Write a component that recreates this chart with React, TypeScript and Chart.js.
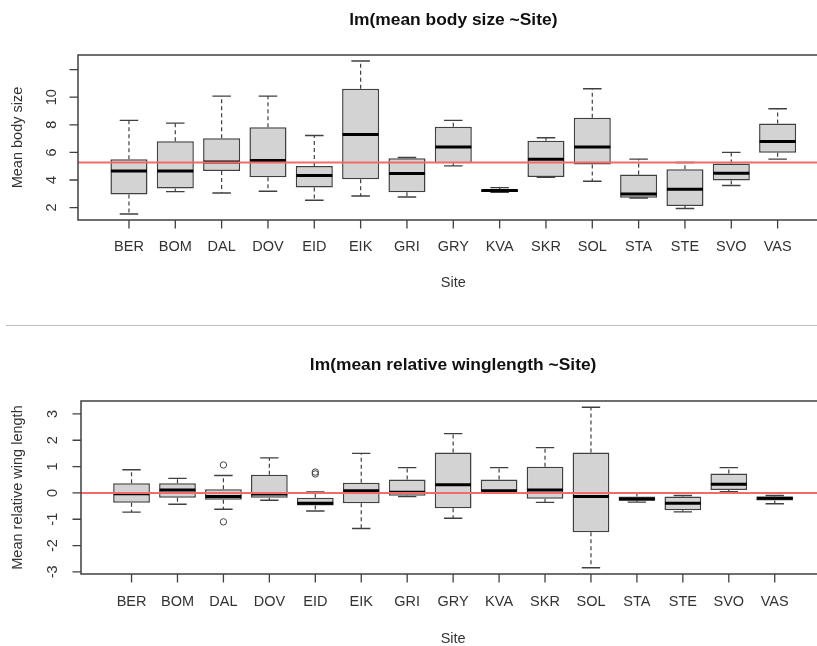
import React, { useEffect, useRef } from 'react';
import { Chart, registerables } from 'chart.js';

Chart.register(...registerables);

// ---------- data ----------
const sites = ['BER', 'BOM', 'DAL', 'DOV', 'EID', 'EIK', 'GRI', 'GRY', 'KVA', 'SKR', 'SOL', 'STA', 'STE', 'SVO', 'VAS'];

const bodyLower = [1.54, 3.16, 3.06, 3.18, 2.53, 2.84, 2.77, 5.02, 3.11, 4.2, 3.91, 2.7, 1.93, 3.6, 5.51];
const bodyQ1 = [2.94, 3.38, 4.66, 4.2, 3.45, 4.06, 3.11, 5.22, 3.13, 4.22, 5.12, 2.72, 2.12, 3.96, 5.97];
const bodyMedian = [4.66, 4.66, 5.3, 5.41, 4.32, 7.3, 4.47, 6.4, 3.23, 5.51, 6.4, 2.99, 3.33, 4.49, 6.79];
const bodyQ3 = [5.51, 6.81, 7.03, 7.83, 5.02, 10.61, 5.58, 7.86, 3.33, 6.84, 8.51, 4.4, 4.78, 5.2, 8.1];
const bodyUpper = [8.32, 8.12, 10.08, 10.08, 7.23, 12.62, 5.63, 8.32, 3.45, 7.06, 10.61, 5.51, 5.27, 6.0, 9.16];
const bodyOutlierSite: number[] = [];
const bodyOutlierValue: number[] = [];
const bodyReference = 5.27;
const bodyTicks = [2, 4, 6, 8, 10, 12];
const bodyTickLabels = ['2', '4', '6', '8', '10', ''];

const wingLower = [-0.73, -0.43, -0.62, -0.28, -0.69, -1.35, -0.14, -0.96, 0.04, -0.36, -2.84, -0.35, -0.72, 0.05, -0.41];
const wingQ1 = [-0.37, -0.18, -0.26, -0.18, -0.48, -0.39, -0.11, -0.58, 0.04, -0.22, -1.49, -0.3, -0.66, 0.11, -0.29];
const wingMedian = [-0.03, 0.11, -0.14, -0.04, -0.39, 0.08, 0.02, 0.31, 0.08, 0.11, -0.14, -0.23, -0.39, 0.33, -0.2];
const wingQ3 = [0.37, 0.37, 0.14, 0.69, -0.18, 0.39, 0.51, 1.53, 0.51, 0.99, 1.53, -0.14, -0.14, 0.74, -0.14];
const wingUpper = [0.88, 0.55, 0.66, 1.33, 0.04, 1.5, 0.96, 2.25, 0.96, 1.72, 3.25, -0.02, -0.1, 0.96, -0.1];
const wingOutlierSite = [2, 2, 4, 4];
const wingOutlierValue = [1.06, -1.1, 0.79, 0.72];
const wingReference = 0;
const wingTicks = [-3, -2, -1, 0, 1, 2, 3];
const wingTickLabels = ['-3', '-2', '-1', '0', '1', '2', '3'];

// ---------- styling ----------
const FONT = '"Liberation Sans", Arial, Helvetica, sans-serif';
const TEXT = '#333333';
const FRAME = '#404040';

interface PanelProps {
  width: number;
  height: number;
  top: number;
  title: string;
  yTitle: string;
  lower: number[];
  q1: number[];
  median: number[];
  q3: number[];
  upper: number[];
  outSite: number[];
  outValue: number[];
  reference: number;
  ticks: number[];
  tickLabels: string[];
  yMin: number;
  yMax: number;
  xMin: number;
  xMax: number;
  area: { left: number; top: number; bottom: number };
  pos: { title: number; yTickX: number; yTitleX: number; xLabelY: number; xTitleY: number };
}

function Panel(p: PanelProps) {
  const ref = useRef<HTMLCanvasElement | null>(null);

  useEffect(() => {
    const canvas = ref.current;
    if (!canvas) return;

    const boxPlugin = {
      id: 'boxParts',
      afterDatasetDraw(chart: any, args: any) {
        if (args.index !== 0) return;
        const ctx = chart.ctx as CanvasRenderingContext2D;
        const xs = chart.scales.x;
        const ys = chart.scales.y;
        ctx.save();
        for (let i = 0; i < sites.length; i++) {
          const cx = xs.getPixelForValue(i);
          const sl = xs.getPixelForValue(i - 0.2);
          const sr = xs.getPixelForValue(i + 0.2);
          const bl = xs.getPixelForValue(i - 0.4);
          const br = xs.getPixelForValue(i + 0.4);
          const yLo = ys.getPixelForValue(p.lower[i]);
          const yQ1 = ys.getPixelForValue(p.q1[i]);
          const yQ3 = ys.getPixelForValue(p.q3[i]);
          const yHi = ys.getPixelForValue(p.upper[i]);
          const yMed = ys.getPixelForValue(p.median[i]);
          // dashed whiskers
          ctx.strokeStyle = FRAME;
          ctx.lineWidth = 1.2;
          ctx.setLineDash([4, 3]);
          ctx.beginPath();
          ctx.moveTo(cx, yQ3);
          ctx.lineTo(cx, yHi);
          ctx.moveTo(cx, yQ1);
          ctx.lineTo(cx, yLo);
          ctx.stroke();
          // staples
          ctx.setLineDash([]);
          ctx.lineWidth = 1.4;
          ctx.beginPath();
          ctx.moveTo(sl, yHi);
          ctx.lineTo(sr, yHi);
          ctx.moveTo(sl, yLo);
          ctx.lineTo(sr, yLo);
          ctx.stroke();
          // median
          ctx.strokeStyle = '#000000';
          ctx.lineWidth = 3;
          ctx.beginPath();
          ctx.moveTo(bl + 0.5, yMed);
          ctx.lineTo(br - 0.5, yMed);
          ctx.stroke();
        }
        ctx.restore();
      },
      afterDraw(chart: any) {
        const ctx = chart.ctx as CanvasRenderingContext2D;
        const xs = chart.scales.x;
        const ys = chart.scales.y;
        const a = chart.chartArea;
        ctx.save();
        // frame (right side lies outside the picture)
        ctx.strokeStyle = FRAME;
        ctx.lineWidth = 1.5;
        ctx.beginPath();
        ctx.moveTo(p.width + 5, a.top);
        ctx.lineTo(a.left, a.top);
        ctx.lineTo(a.left, a.bottom);
        ctx.lineTo(p.width + 5, a.bottom);
        ctx.stroke();
        // y ticks
        ctx.lineWidth = 1.3;
        ctx.beginPath();
        p.ticks.forEach((t) => {
          const y = ys.getPixelForValue(t);
          ctx.moveTo(a.left, y);
          ctx.lineTo(a.left - 8.5, y);
        });
        // x ticks
        sites.forEach((_, i) => {
          const x = xs.getPixelForValue(i);
          ctx.moveTo(x, a.bottom);
          ctx.lineTo(x, a.bottom + 8.5);
        });
        ctx.stroke();
        // y tick labels (rotated, as in R)
        ctx.fillStyle = TEXT;
        ctx.font = `14.5px ${FONT}`;
        ctx.textAlign = 'center';
        ctx.textBaseline = 'middle';
        p.ticks.forEach((t, k) => {
          const y = ys.getPixelForValue(t);
          ctx.save();
          ctx.translate(p.pos.yTickX, y);
          ctx.rotate(-Math.PI / 2);
          ctx.fillText(p.tickLabels[k], 0, 0);
          ctx.restore();
        });
        // x tick labels
        sites.forEach((s, i) => {
          ctx.fillText(s, xs.getPixelForValue(i), p.pos.xLabelY);
        });
        // axis titles
        const mid = xs.getPixelForValue(7);
        ctx.fillText('Site', mid, p.pos.xTitleY);
        ctx.save();
        ctx.translate(p.pos.yTitleX, (a.top + a.bottom) / 2);
        ctx.rotate(-Math.PI / 2);
        ctx.fillText(p.yTitle, 0, 0);
        ctx.restore();
        // main title
        ctx.fillStyle = '#111111';
        ctx.font = `bold 17.4px ${FONT}`;
        ctx.fillText(p.title, mid, p.pos.title);
        ctx.restore();
      },
    };

    const chart = new Chart(canvas, {
      type: 'bar',
      data: {
        datasets: [
          {
            type: 'bar',
            data: sites.map((_, i) => ({ x: i, y: [p.q1[i], p.q3[i]] })) as any,
            backgroundColor: '#d3d3d3',
            borderColor: FRAME,
            borderWidth: 1.5,
            borderSkipped: false,
            barPercentage: 0.8,
            categoryPercentage: 1,
            order: 3,
          } as any,
          {
            type: 'scatter',
            data: p.outSite.map((s, i) => ({ x: s, y: p.outValue[i] })),
            pointStyle: 'circle',
            pointRadius: 3.2,
            borderWidth: 1,
            borderColor: '#444444',
            backgroundColor: 'rgba(0,0,0,0)',
            order: 2,
          } as any,
          {
            type: 'line',
            data: [
              { x: p.xMin, y: p.reference },
              { x: p.xMax, y: p.reference },
            ],
            borderColor: '#f26b6b',
            borderWidth: 2,
            pointRadius: 0,
            fill: false,
            order: 1,
          } as any,
        ],
      },
      options: {
        responsive: false,
        maintainAspectRatio: false,
        animation: false,
        events: [],
        layout: {
          autoPadding: false,
          padding: {
            left: p.area.left,
            top: p.area.top,
            right: 0,
            bottom: p.height - p.area.bottom,
          },
        },
        scales: {
          x: { type: 'linear', min: p.xMin, max: p.xMax, offset: false, display: false },
          y: { type: 'linear', min: p.yMin, max: p.yMax, display: false },
        },
        plugins: {
          legend: { display: false },
          title: { display: false },
          tooltip: { enabled: false },
        },
      },
      plugins: [boxPlugin],
    });

    return () => {
      chart.destroy();
    };
  }, []);

  return (
    <canvas
      ref={ref}
      width={p.width}
      height={p.height}
      style={{ position: 'absolute', left: 0, top: p.top, width: p.width, height: p.height }}
    />
  );
}

export default function App() {
  return (
    <div
      style={{
        position: 'absolute',
        left: 0,
        top: 0,
        width: 817,
        height: 646,
        background: '#ffffff',
        overflow: 'hidden',
      }}
    >
      <Panel
        width={817}
        height={320}
        top={0}
        title="lm(mean body size ~Site)"
        yTitle="Mean body size"
        lower={bodyLower}
        q1={bodyQ1}
        median={bodyMedian}
        q3={bodyQ3}
        upper={bodyUpper}
        outSite={bodyOutlierSite}
        outValue={bodyOutlierValue}
        reference={bodyReference}
        ticks={bodyTicks}
        tickLabels={bodyTickLabels}
        yMin={1.1}
        yMax={13.06}
        xMin={-1.1}
        xMax={14.85}
        area={{ left: 78, top: 55, bottom: 220 }}
        pos={{ title: 20, yTickX: 52, yTitleX: 18, xLabelY: 247, xTitleY: 283 }}
      />
      <div
        style={{
          position: 'absolute',
          left: 6,
          top: 325,
          width: 811,
          height: 0,
          borderTop: '1.5px solid #bdbdbd',
        }}
      />
      <Panel
        width={817}
        height={326}
        top={320}
        title="lm(mean relative winglength ~Site)"
        yTitle="Mean relative wing length"
        lower={wingLower}
        q1={wingQ1}
        median={wingMedian}
        q3={wingQ3}
        upper={wingUpper}
        outSite={wingOutlierSite}
        outValue={wingOutlierValue}
        reference={wingReference}
        ticks={wingTicks}
        tickLabels={wingTickLabels}
        yMin={-3.08}
        yMax={3.49}
        xMin={-1.1}
        xMax={14.92}
        area={{ left: 81, top: 81, bottom: 254 }}
        pos={{ title: 45, yTickX: 53, yTitleX: 18, xLabelY: 282, xTitleY: 319 }}
      />
    </div>
  );
}
